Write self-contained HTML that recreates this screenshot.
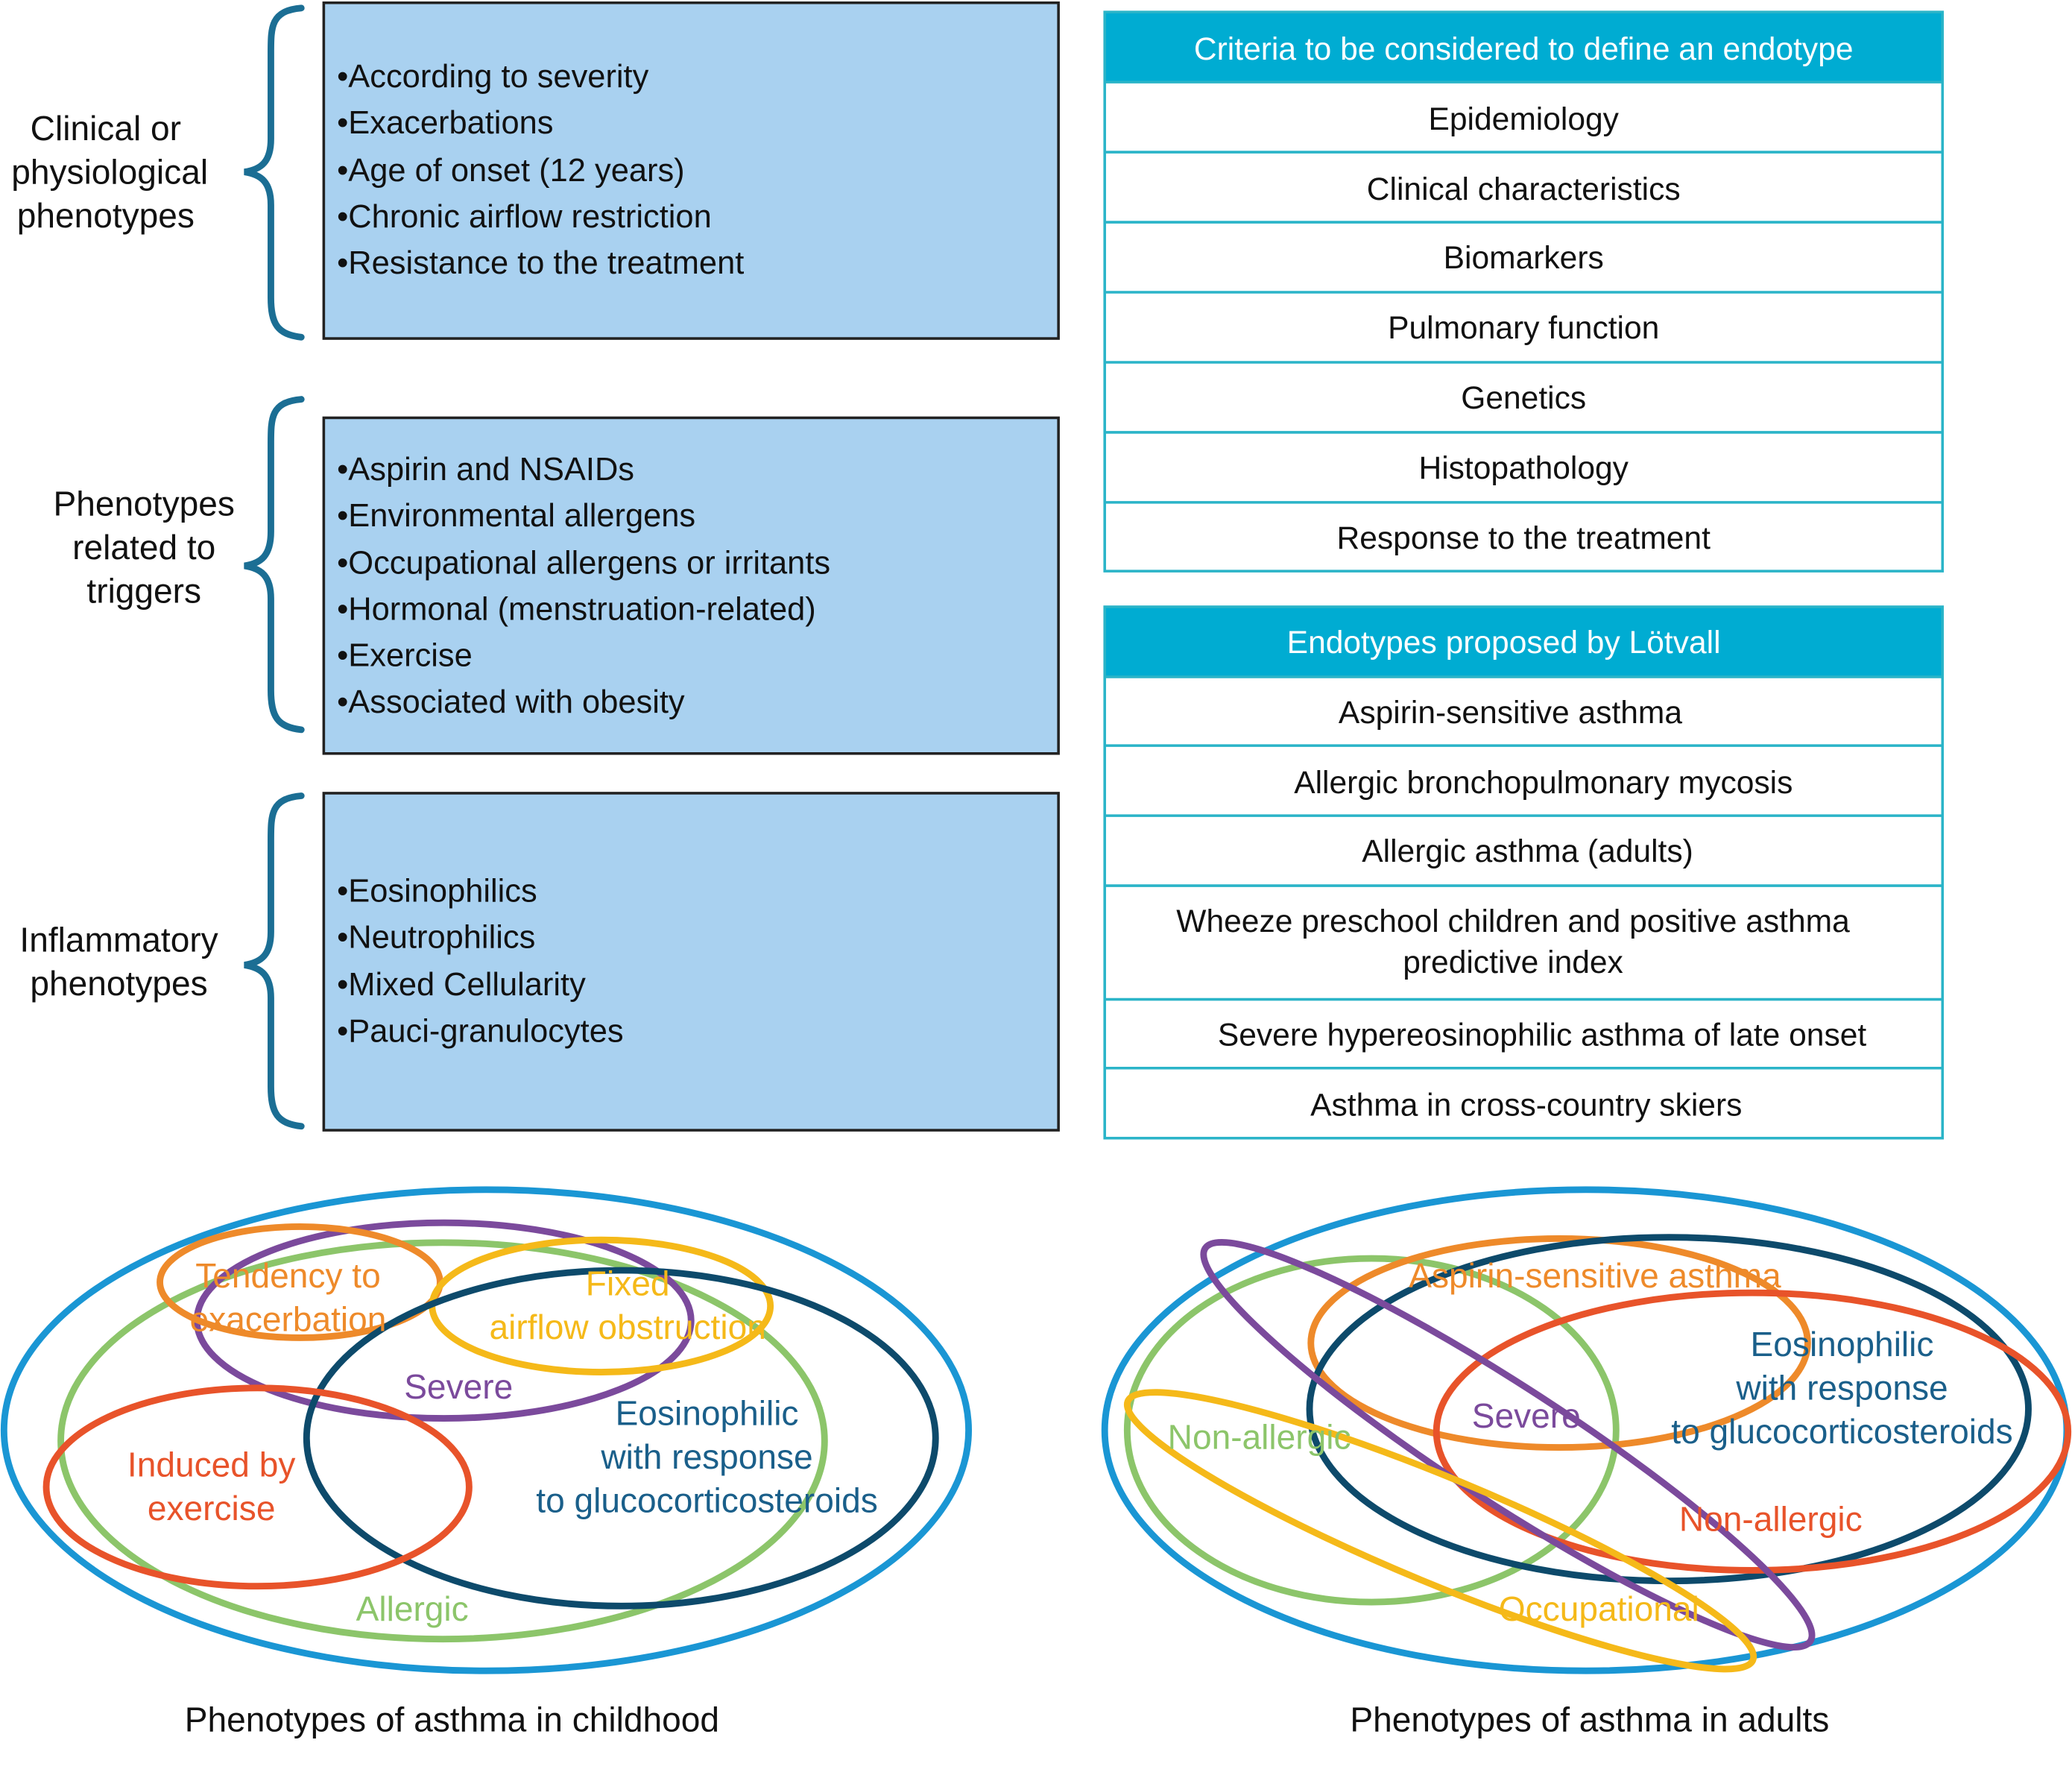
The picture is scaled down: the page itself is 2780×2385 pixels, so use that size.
<!DOCTYPE html>
<html><head><meta charset="utf-8"><style>
html,body{margin:0;padding:0;background:#fff}
svg{display:block}
text{font-family:"Liberation Sans",Arial,sans-serif}
</style></head><body>
<svg width="2780" height="2385" viewBox="0 0 1568 1345" xmlns="http://www.w3.org/2000/svg">
<rect width="1568" height="1345" fill="#fff"/>
<g fill="#a9d1f0" stroke="#222" stroke-width="2">
<rect x="245" y="2" width="556" height="254"/>
<rect x="245" y="316" width="556" height="254"/>
<rect x="245" y="600" width="556" height="255"/>
</g>
<g font-size="24.5" fill="#111">
<text x="255" y="66">•According to severity</text>
<text x="255" y="101">•Exacerbations</text>
<text x="255" y="137">•Age of onset (12 years)</text>
<text x="255" y="172">•Chronic airflow restriction</text>
<text x="255" y="207">•Resistance to the treatment</text>
<text x="255" y="363">•Aspirin and NSAIDs</text>
<text x="255" y="398">•Environmental allergens</text>
<text x="255" y="434">•Occupational allergens or irritants</text>
<text x="255" y="469">•Hormonal (menstruation-related)</text>
<text x="255" y="504">•Exercise</text>
<text x="255" y="539">•Associated with obesity</text>
<text x="255" y="682">•Eosinophilics</text>
<text x="255" y="717">•Neutrophilics</text>
<text x="255" y="753">•Mixed Cellularity</text>
<text x="255" y="788">•Pauci-granulocytes</text>
</g>
<g fill="none" stroke="#1b6e94" stroke-width="5" stroke-linecap="round">
<path d="M228,6 C205,8 205,20 205,40 L205,105 C205,122 198,128 185,130 C198,132 205,138 205,155 L205,225 C205,245 210,253 228,255"/>
<path d="M228,302 C205,304 205,316 205,336 L205,402 C205,420 198,426 185,428 C198,430 205,436 205,453 L205,522 C205,542 210,550 228,552"/>
<path d="M228,602 C205,604 205,616 205,636 L205,705 C205,722 198,728 185,730 C198,732 205,738 205,755 L205,822 C205,842 210,850 228,852"/>
</g>
<g font-size="26" fill="#111" text-anchor="middle">
<text x="80" y="106">Clinical or</text>
<text x="83" y="139">physiological</text>
<text x="80" y="172">phenotypes</text>
<text x="109" y="390">Phenotypes</text>
<text x="109" y="423">related to</text>
<text x="109" y="456">triggers</text>
<text x="90" y="720">Inflammatory</text>
<text x="90" y="753">phenotypes</text>
</g>
<rect x="836" y="9" width="634" height="53" fill="#00acd2"/>
<rect x="836" y="459" width="634" height="53" fill="#00acd2"/>
<g fill="none" stroke="#2ab4c8" stroke-width="2">
<rect x="836" y="9" width="634" height="423"/>
<path d="M836,115H1470M836,168H1470M836,221H1470M836,274H1470M836,327H1470M836,380H1470M836,62H1470"/>
<rect x="836" y="459" width="634" height="402"/>
<path d="M836,512H1470M836,564H1470M836,617H1470M836,670H1470M836,756H1470M836,808H1470"/>
</g>
<g font-size="24" text-anchor="middle" fill="#111">
<text x="1153" y="45" fill="#fff">Criteria to be considered to define an endotype</text>
<text x="1153" y="98">Epidemiology</text>
<text x="1153" y="151">Clinical characteristics</text>
<text x="1153" y="203">Biomarkers</text>
<text x="1153" y="256">Pulmonary function</text>
<text x="1153" y="309">Genetics</text>
<text x="1153" y="362">Histopathology</text>
<text x="1153" y="415">Response to the treatment</text>
<text x="1138" y="494" fill="#fff">Endotypes proposed by Lötvall</text>
<text x="1143" y="547">Aspirin-sensitive asthma</text>
<text x="1168" y="600">Allergic bronchopulmonary mycosis</text>
<text x="1156" y="652">Allergic asthma (adults)</text>
<text x="1145" y="705">Wheeze preschool children and positive asthma</text>
<text x="1145" y="736">predictive index</text>
<text x="1167" y="791">Severe hypereosinophilic asthma of late onset</text>
<text x="1155" y="844">Asthma in cross-country skiers</text>
</g>
<g fill="none" stroke-width="5">
<ellipse cx="368" cy="1082" rx="365" ry="182" stroke="#1a96d4"/>
<ellipse cx="335" cy="1090" rx="289" ry="150" stroke="#8cc56a"/>
<ellipse cx="336" cy="999" rx="187" ry="74" stroke="#7b4a9c"/>
<ellipse cx="227" cy="970" rx="106" ry="42" stroke="#ee8a2a"/>
<ellipse cx="455" cy="988" rx="128" ry="50" stroke="#f5b919"/>
<ellipse cx="470" cy="1088" rx="238" ry="127" stroke="#0d4a6b"/>
<ellipse cx="195" cy="1125" rx="160" ry="75" stroke="#e8532a"/>
</g>
<g font-size="26" text-anchor="middle">
<text x="218" y="974" fill="#ee8a2a">Tendency to</text>
<text x="218" y="1007" fill="#ee8a2a">exacerbation</text>
<text x="475" y="980" fill="#f5b919">Fixed</text>
<text x="475" y="1013" fill="#f5b919">airflow obstruction</text>
<text x="347" y="1058" fill="#7b4a9c">Severe</text>
<text x="535" y="1078" fill="#1a5f8a">Eosinophilic</text>
<text x="535" y="1111" fill="#1a5f8a">with response</text>
<text x="535" y="1144" fill="#1a5f8a">to glucocorticosteroids</text>
<text x="160" y="1117" fill="#e8532a">Induced by</text>
<text x="160" y="1150" fill="#e8532a">exercise</text>
<text x="312" y="1226" fill="#8cc56a">Allergic</text>
</g>
<g fill="none" stroke-width="5">
<ellipse cx="1200" cy="1082" rx="364" ry="182" stroke="#1a96d4"/>
<ellipse cx="1038" cy="1082" rx="185" ry="130" stroke="#8cc56a"/>
<ellipse cx="1180" cy="1016" rx="188" ry="79" stroke="#ee8a2a"/>
<ellipse cx="1263" cy="1066" rx="272" ry="130" stroke="#0d4a6b"/>
<ellipse cx="1326" cy="1083" rx="239" ry="105" stroke="#e8532a"/>
<ellipse cx="1141" cy="1093" rx="273" ry="44" stroke="#7b4a9c" transform="rotate(33 1141 1093)"/>
<ellipse cx="1090" cy="1158" rx="256" ry="40" stroke="#f5b919" transform="rotate(22.5 1090 1158)"/>
</g>
<g font-size="26" text-anchor="middle">
<text x="1207" y="974" fill="#ee8a2a">Aspirin-sensitive asthma</text>
<text x="1394" y="1026" fill="#1a5f8a">Eosinophilic</text>
<text x="1394" y="1059" fill="#1a5f8a">with response</text>
<text x="1394" y="1092" fill="#1a5f8a">to glucocorticosteroids</text>
<text x="1155" y="1080" fill="#7b4a9c">Severe</text>
<text x="953" y="1096" fill="#8cc56a">Non-allergic</text>
<text x="1340" y="1158" fill="#e8532a">Non-allergic</text>
<text x="1210" y="1226" fill="#f5b919">Occupational</text>
</g>
<g font-size="26" text-anchor="middle" fill="#111">
<text x="342" y="1310">Phenotypes of asthma in childhood</text>
<text x="1203" y="1310">Phenotypes of asthma in adults</text>
</g>
</svg>
</body></html>
